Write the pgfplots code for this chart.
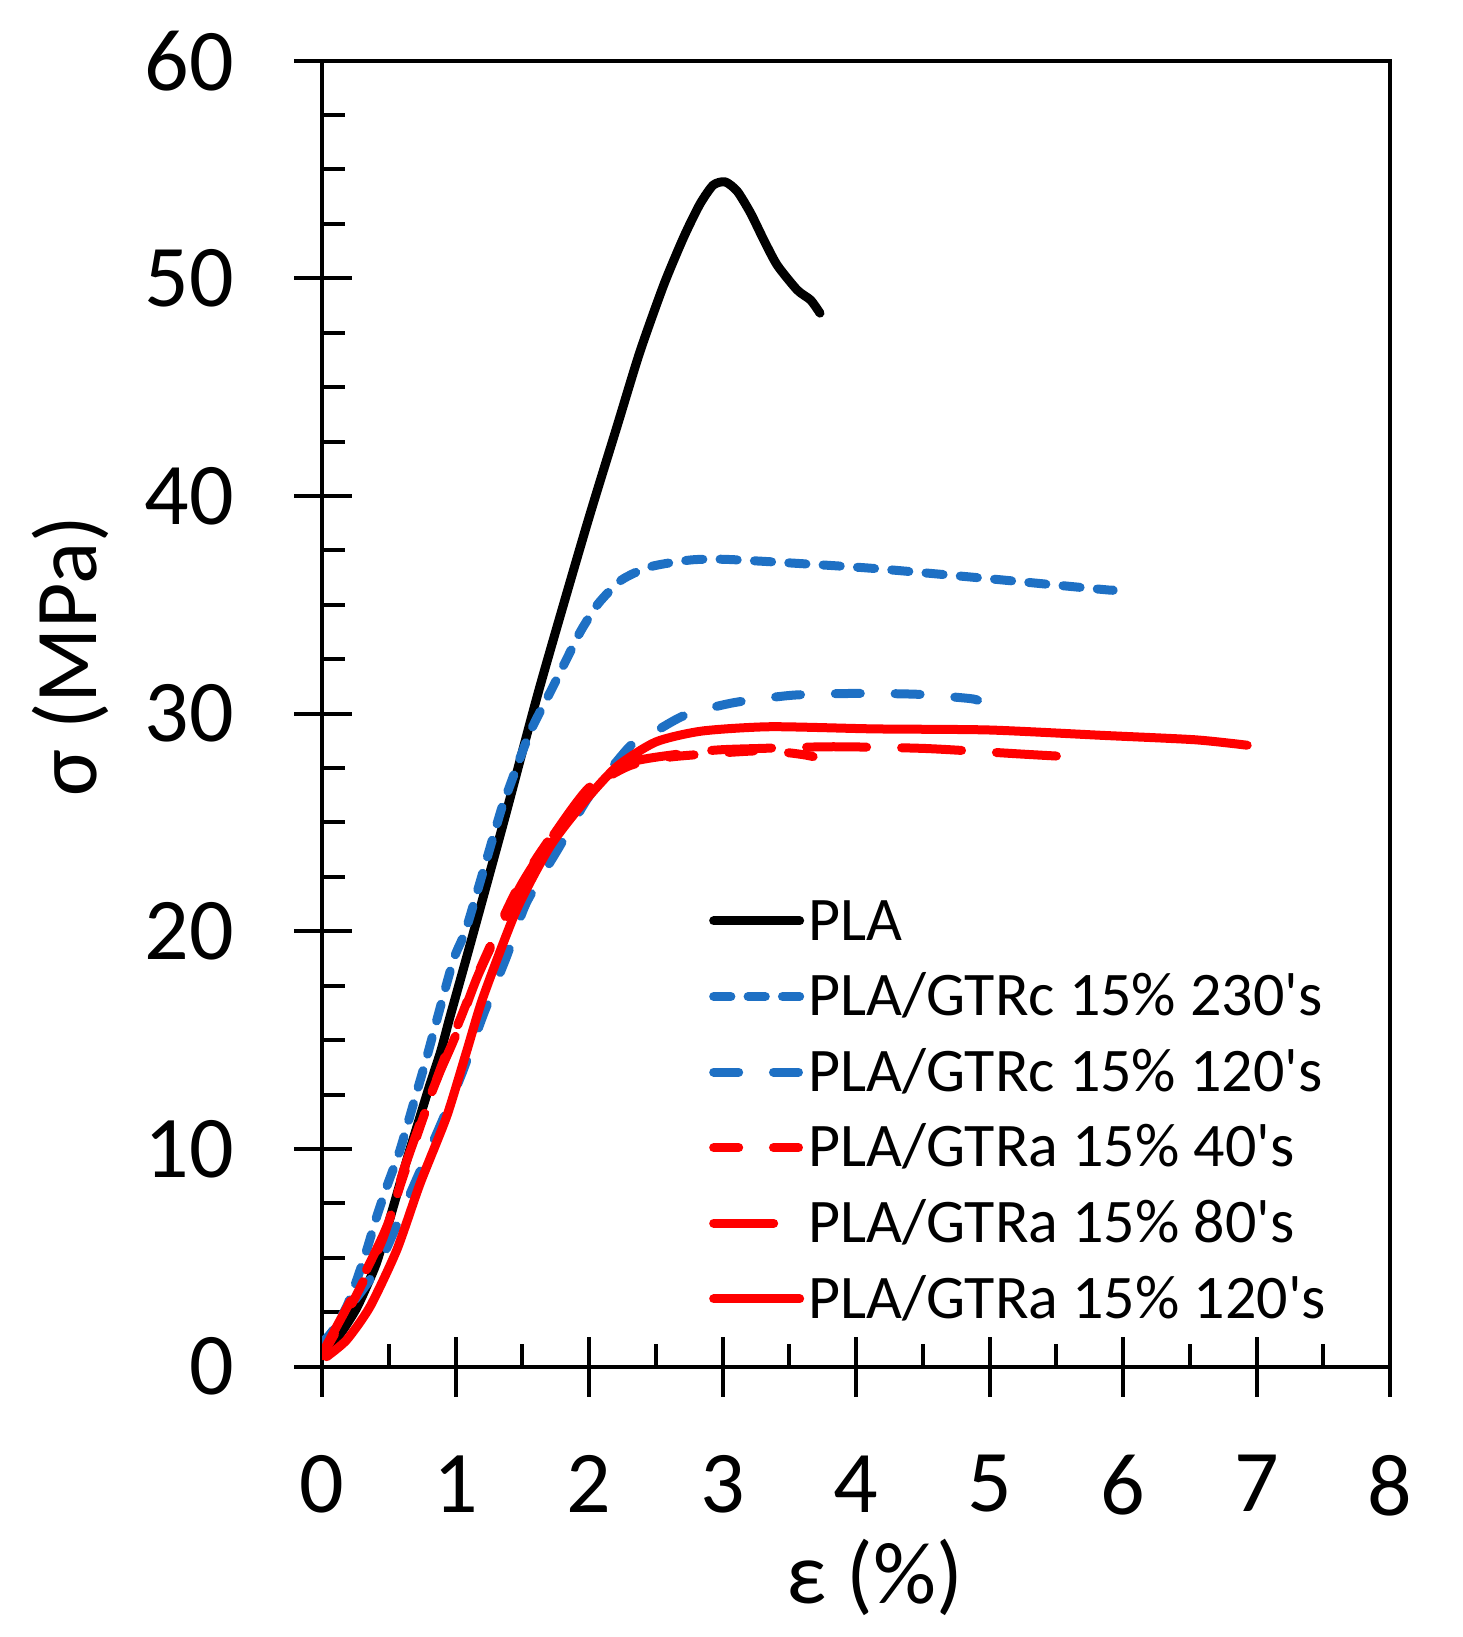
\documentclass[border=0pt]{standalone}
\usepackage{fontspec}
\setmainfont{Carlito}[Ligatures=TeXOff]
\usepackage{pgfplots}
\pgfplotsset{compat=1.18}
\definecolor{exblue}{RGB}{30,112,196}
\definecolor{exred}{RGB}{255,0,0}
\pgfplotsset{
  full legend/.style={legend image code/.code={%
    \path[draw=none,fill=none] (0pt,0pt) -- (23.75pt,0pt);
    \draw[##1] (1.125pt,1.05pt) -- (22.625pt,1.05pt);}},
  short legend/.style={legend image code/.code={%
    \path[draw=none,fill=none] (0pt,0pt) -- (23.75pt,0pt);
    \draw[##1] (1.125pt,1.05pt) -- (16.125pt,1.05pt);}},
}
\begin{document}
\begin{tikzpicture}
\begin{axis}[
  at={(0,0)}, anchor=south west,
  scale only axis, width=267pt, height=326.5pt,
  xmin=0, xmax=8, ymin=0, ymax=60,
  xtick={0,...,8}, ytick={0,10,...,60},
  minor x tick num=1, minor y tick num=3,
  xtick pos=bottom, ytick pos=left,
  tick align=inside,
  major tick length=7.5pt, minor tick length=5.75pt,
  extra x ticks={0,...,8}, extra x tick labels={},
  extra x tick style={tick align=outside, major tick length=7.5pt},
  extra y ticks={0,10,...,60}, extra y tick labels={},
  extra y tick style={tick align=outside, major tick length=7pt},
  axis line style={line width=1pt},
  every tick/.style={black, line width=1pt},
  tick label style={font=\fontsize{22}{26}\selectfont, inner sep=0pt},
  /pgf/number format/assume math mode=true,
  xticklabel style={yshift=-22pt},
  yticklabel style={xshift=-21.75pt},
  xlabel={ε (\%)},
  ylabel={σ (MPa)},
  xlabel style={at={(axis description cs:0.5178,-0.1617)}, anchor=center, inner sep=0pt, font=\fontsize{22}{26}\selectfont},
  ylabel style={at={(axis description cs:-0.236,0.544)}, anchor=center, inner sep=0pt, font=\fontsize{22}{26}\selectfont},
  legend cell align=left,
  full legend,
  legend style={at={(axis cs:2.9,21.62)}, anchor=north west, draw=none, fill=none,
    inner sep=0pt, outer sep=0pt, font=\fontsize{15.5}{18}\selectfont,
    row sep=4.4pt, column sep=1pt,
    nodes={inner sep=0pt, text height=11pt, text depth=3.5pt}},
  every axis plot/.append style={line width=2.25pt, line cap=round, line join=round},
]
\addplot[black, smooth, tension=0.4] coordinates {
(0,0.46) (0.085,1.07) (0.17,1.8) (0.26,2.7) (0.35,3.9) (0.41,4.8) (0.48,6.2) (0.56,7.9)
(0.64,9.6) (0.72,11.2) (0.8,12.8) (0.89,14.5) (0.96,16.1) (1.11,19.4) (1.36,25.0)
(1.63,31.2) (1.98,38.6) (2.21,43.2) (2.38,46.6) (2.56,49.7) (2.71,51.9) (2.83,53.4)
(2.93,54.28) (3.02,54.43) (3.11,54.0) (3.21,53.0) (3.31,51.75) (3.41,50.6) (3.56,49.46)
(3.66,49.0) (3.73,48.4)};
\addlegendentry{PLA}
\addplot[exblue, smooth, tension=0.4, dash pattern=on 4.3pt off 4.3pt] coordinates {
(0,1.08) (0.085,1.69) (0.185,2.76) (0.26,3.98) (0.335,5.36) (0.41,6.9) (0.485,8.27)
(0.584,9.95) (0.709,12.6) (0.784,14.2) (0.98,18.6) (1.084,20.2) (1.333,25.4) (1.384,26.3)
(1.555,29.1) (1.727,31.2) (1.856,32.8) (1.942,33.84) (2.071,35.07) (2.243,36.14)
(2.458,36.75) (2.76,37.06) (3.017,37.09) (3.49,36.93) (4.135,36.67) (4.995,36.2)
(5.855,35.7) (5.92,35.68)};
\addlegendentry{PLA/GTRc 15\% 230's}
\addplot[exblue, smooth, tension=0.4, dash pattern=on 6.25pt off 8.7pt] coordinates {
(0,0.8) (0.19,2.6) (0.42,4.6) (0.70,8.5) (0.88,11.0) (1.05,13.5) (1.21,16.2) (1.38,18.8)
(1.53,21.3) (1.77,23.8) (2.0,26.2) (2.29,28.4) (2.37,28.7) (2.707,29.9) (3.08,30.5)
(3.53,30.85) (4.0,30.93) (4.46,30.89) (4.845,30.7) (4.91,30.62)};
\addlegendentry{PLA/GTRc 15\% 120's}
\addplot[exred, smooth, tension=0.4, dash pattern=on 6.25pt off 8.7pt] coordinates {
(0,0.5) (0.25,3.2) (0.45,5.8) (0.6,8.6) (0.75,11.3) (0.9,13.9) (1.05,16.2) (1.2,18.5)
(1.45,21.8) (1.7,24.2) (2.0,26.5) (2.3,27.6) (2.6,28.0) (3.0,28.2) (3.3,28.3) (3.5,28.2)
(3.62,28.1) (3.7,28.0)};
\addlegendentry{PLA/GTRa 15\% 40's}
\addplot[exred, smooth, tension=0.4, dash pattern=on 15pt off 8.75pt, short legend] coordinates {
(0,0.6) (0.28,3.8) (0.49,6.5) (0.61,9.0) (0.76,11.6) (0.88,13.5) (1.0,15.2) (1.17,18.0)
(1.48,22.0) (1.72,24.3) (2.0,26.6) (2.33,27.8) (2.9,28.3) (3.27,28.4) (3.83,28.48)
(4.52,28.4) (5.25,28.14) (5.51,28.05)};
\addlegendentry{PLA/GTRa 15\% 80's}
\addplot[exred, smooth, tension=0.4] coordinates {
(0.035,0.46) (0.185,1.23) (0.36,2.76) (0.56,5.36) (0.734,8.4) (0.934,11.5) (1.084,14.5)
(1.208,17.0) (1.458,21.0) (1.708,23.9) (1.957,25.9) (2.207,27.56) (2.5,28.7) (2.845,29.2)
(3.36,29.4) (4.135,29.3) (4.995,29.25) (5.855,29.0) (6.54,28.8) (6.93,28.55)};
\addlegendentry{PLA/GTRa 15\% 120's}
\end{axis}
\pgfresetboundingbox
\path[use as bounding box] (-80.5pt,-67.575pt) rectangle (285pt,341.65pt);
\end{tikzpicture}
\end{document}
